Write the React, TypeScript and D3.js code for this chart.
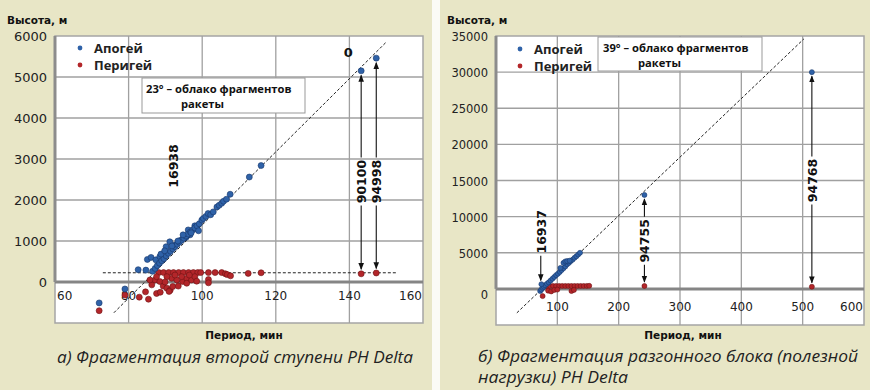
import * as d3 from "d3";

type Pt = [number, number];

// ---- panel a: second stage, period (min) / height (km shown as "м")
const apogeeA: Pt[] = [
  [72, -510], [79, -170],
  [82.6, 300], [84.7, 290], [85.1, 550], [86.1, 600], [87.4, 540], [88.5, 620],
  [90.2, 860], [91.2, 980], [92.6, 900], [94, 1010], [95, 1120], [95.6, 1090],
  [96.2, 1270], [96.7, 1150], [98, 1370],
  [86.5, 260], [87.2, 330], [87.8, 400], [88.4, 460], [89, 520], [89.6, 570],
  [90.2, 640], [90.8, 700], [91.4, 750], [92, 810], [92.6, 860], [93.2, 920],
  [93.8, 970], [94.4, 1020], [95, 1070], [95.6, 1120], [96.2, 1170], [96.8, 1220],
  [97.4, 1270], [98, 1320], [98.6, 1370], [99.2, 1420], [99.9, 1510],
  [88.8, 680], [89.8, 760], [91.8, 880], [93.4, 1000], [94.8, 1150], [97, 1200], [99, 1250],
  [100.3, 1550], [101, 1600], [101.6, 1670], [102.3, 1640], [103, 1710], [104, 1830],
  [104.6, 1870], [105.3, 1920], [105.8, 1970], [106.6, 2020], [107.6, 2140],
  [112.8, 2560], [116, 2840],
  [143.2, 5150], [147.3, 5460],
];
const perigeeA: Pt[] = [
  [88.2, 230], [89.5, 230], [90.9, 230], [92.2, 230], [93.6, 230], [94.9, 230],
  [96.3, 230], [97.6, 230], [98.8, 230], [99.6, 230], [101.7, 230], [103.5, 230],
  [105.3, 230], [106.3, 200], [106.8, 180], [107.7, 150], [112.5, 210], [116, 225],
  [84.6, -240], [85.4, -420], [82.9, -370], [87.6, -280], [86.3, -70], [87.2, 50],
  [88.5, 10], [89.4, -100], [90.4, -150], [91.3, -200], [92, -110], [91.7, 90],
  [93.1, 50], [93.5, -100], [94.7, 10], [95.8, 90], [95.8, -30], [97.1, 50],
  [98, 130], [98.5, 20], [87.6, 130], [90.4, 130], [85.8, 50], [89.9, 0],
  [94.4, 130], [92.6, 170], [101.7, 60], [101.7, -20], [96.5, 170], [88.6, -250], [91, -230],
  [72, -700], [79, -320],
  [143.2, 200], [147.3, 220],
];
const diagA: Pt[] = [[76, -750], [150, 5850]];
const flatA: Pt[] = [[73, 225], [153, 225]];
const xTicksA = [60, 80, 100, 120, 140, 160];
const yTicksA = [-1000, 0, 1000, 2000, 3000, 4000, 5000, 6000];

// ---- panel b: upper stage (payload)
const apogeeB: Pt[] = [
  [72, -300], [74, -100], [76, 150], [78, 300], [80, 500], [83, 700], [86, 900],
  [89, 1150], [92, 1400], [95, 1650], [98, 1900], [101, 2100], [104, 2350],
  [107, 2600], [110, 2850], [113, 3100], [116, 3400], [119, 3600], [122, 3850],
  [125, 4050], [128, 4300], [131, 4500], [134, 4750], [137, 5000],
  [74, 650], [110, 3600], [113, 3800], [116, 3850], [120, 3900], [105, 2900],
  [242, 13000], [515, 30000],
];
const perigeeB: Pt[] = [
  [83, 350], [88, 400], [93, 400], [98, 400], [103, 400], [108, 400], [113, 400],
  [118, 400], [123, 400], [128, 400], [133, 400], [138, 400], [143, 400], [148, 400], [152, 420],
  [76, -1000], [85, -250], [90, -350], [95, -150], [100, -100], [123, -300], [127, -150],
  [242, 400], [515, 300],
];
const diagB: Pt[] = [[34, -3320], [502, 34600]];
const xTicksB = [0, 100, 200, 300, 400, 500, 600];
const yTicksB = [-5000, 0, 5000, 10000, 15000, 20000, 25000, 30000, 35000];

// rotated labels: text, period, label height, arrow targets
interface Tag { text: string; px: number; hy: number; up?: number; down?: number }
const tagsA: Tag[] = [
  { text: "16938", px: 92.1, hy: 2830 },
  { text: "90100", px: 143.2, hy: 2450, up: 5150, down: 200 },
  { text: "94998", px: 147.3, hy: 2450, up: 5460, down: 220 },
];
const tagsB: Tag[] = [
  { text: "16937", px: 73, hy: 7900, down: 600 },
  { text: "94755", px: 242, hy: 6650, up: 13000, down: 400 },
  { text: "94768", px: 515, hy: 15000, up: 30000, down: 300 },
];

const BG = "#e8e6c6";
const FONT = "'DejaVu Sans', Verdana, sans-serif";
const SANS = "'Open Sans', sans-serif";
const BLUE = "#2f62a8";
const BLUE_S = "#17386b";
const RED = "#b3262a";
const RED_S = "#6e1214";

interface PanelProps {
  id: string;
  left: number; right: number; top: number; bottom: number;
  xDomain: [number, number]; yDomain: [number, number];
  xTicks: number[]; yTicks: number[];
  apogee: Pt[]; perigee: Pt[];
  lines: Pt[][];
  tags: Tag[];
  r: number;
  yTickSize: number; xTickSize: number; xTickDy: number;
  legend: [number, number];
  box: { x: number; y: number; w: number; h: number; l1: string; l2: string; t1x: number; t2x: number; b1: number; b2: number };
  extraLabel?: { text: string; px: number; hy: number };
  yTitleX: number;
  xTitleX: number;
  caption: { x: number; y: number; text: string; len: number }[];
  showFirstX: boolean;
}

function Panel(p: PanelProps) {
  const x = d3.scaleLinear().domain(p.xDomain).range([p.left, p.right]);
  const y = d3.scaleLinear().domain(p.yDomain).range([p.bottom, p.top]);
  const line = d3.line<Pt>().x(d => x(d[0])).y(d => y(d[1]));
  const y0 = y(0);
  const half = 22;

  return (
    <g>
      <rect x={p.left} y={p.top} width={p.right - p.left} height={p.bottom - p.top} fill="#fff" stroke="#a5a5a5" strokeWidth={1.5} />
      {p.xTicks.filter(t => t > p.xDomain[0] && t < p.xDomain[1]).map(t => (
        <line key={"gx" + t} x1={x(t)} x2={x(t)} y1={p.top} y2={p.bottom} stroke="#a0a0a0" strokeWidth={1.3} />
      ))}
      {p.yTicks.filter(t => t > p.yDomain[0] && t < p.yDomain[1] && t !== 0).map(t => (
        <line key={"gy" + t} x1={p.left} x2={p.right} y1={y(t)} y2={y(t)} stroke="#a0a0a0" strokeWidth={1.3} />
      ))}
      <line x1={p.left} x2={p.right} y1={y0} y2={y0} stroke="#858585" strokeWidth={3} />
      <line x1={p.left} x2={p.left} y1={p.top} y2={y0} stroke="#8c8c8c" strokeWidth={3} />

      {p.yTicks.filter(t => t >= 0).map(t => (
        <text key={"ty" + t} x={p.left - 8} y={y(t) + (t === 0 && p.id === "b" ? 10 : 5)} textAnchor="end"
          fontFamily={FONT} fontSize={p.yTickSize} fill="#222">{t}</text>
      ))}
      {p.xTicks.filter((t, i) => p.showFirstX || i > 0).map((t, i, arr) => {
        const first = t === p.xDomain[0];
        const last = i === arr.length - 1;
        return (
          <text key={"tx" + t} x={first ? x(t) + 2 : last ? x(t) - 1 : x(t)} y={y0 + p.xTickDy}
            textAnchor={first ? "start" : last ? "end" : "middle"}
            fontFamily={FONT} fontSize={p.xTickSize} fill="#222">{t}</text>
        );
      })}

      {p.lines.map((l, i) => (
        <path key={"l" + i} d={line(l) ?? ""} fill="none" stroke="#222" strokeWidth={1} strokeDasharray="3,2" />
      ))}

      {p.perigee.map((d, i) => (
        <circle key={"p" + i} cx={x(d[0])} cy={y(d[1])} r={p.r} fill={RED} stroke={RED_S} strokeWidth={0.6} />
      ))}
      {p.apogee.map((d, i) => (
        <circle key={"a" + i} cx={x(d[0])} cy={y(d[1])} r={p.r} fill={BLUE} stroke={BLUE_S} strokeWidth={0.6} />
      ))}

      {p.tags.map(t => {
        const cx = x(t.px);
        const cy = y(t.hy);
        return (
          <g key={t.text}>
            <text transform={`translate(${cx + 5},${cy}) rotate(-90)`} textAnchor="middle"
              fontFamily={FONT} fontWeight="bold" fontSize={12.5} fill="#111">{t.text}</text>
            {t.up !== undefined && (
              <line x1={cx} x2={cx} y1={cy - half - 2} y2={y(t.up) + p.r + 1.5} stroke="#111" strokeWidth={1.1} markerEnd={`url(#ah-${p.id})`} />
            )}
            {t.down !== undefined && (
              <line x1={cx} x2={cx} y1={cy + half + 2} y2={y(t.down) - p.r - 1.5} stroke="#111" strokeWidth={1.1} markerEnd={`url(#ah-${p.id})`} />
            )}
          </g>
        );
      })}
      {p.extraLabel && (
        <text x={x(p.extraLabel.px)} y={y(p.extraLabel.hy)} textAnchor="middle" fontFamily={FONT}
          fontWeight="bold" fontSize={13} fill="#111">{p.extraLabel.text}</text>
      )}

      <circle cx={p.legend[0]} cy={p.legend[1]} r={2.4} fill={BLUE} />
      <text x={p.legend[0] + 14} y={p.legend[1] + 4.5} fontFamily={SANS} fontWeight="bold" fontSize={13} fill="#222">Апогей</text>
      <circle cx={p.legend[0]} cy={p.legend[1] + 17} r={2.4} fill={RED} />
      <text x={p.legend[0] + 14} y={p.legend[1] + 21.5} fontFamily={SANS} fontWeight="bold" fontSize={13} fill="#222">Перигей</text>

      <rect x={p.box.x} y={p.box.y} width={p.box.w} height={p.box.h} fill="#fff" stroke="#999" strokeWidth={1} />
      <text x={p.box.t1x} y={p.box.b1} fontFamily={SANS} fontWeight="bold" fontSize={11.2} fill="#111">{p.box.l1}</text>
      <text x={p.box.t2x} y={p.box.b2} fontFamily={SANS} fontWeight="bold" fontSize={11.2} fill="#111">{p.box.l2}</text>

      <text x={p.yTitleX} y={24} fontFamily={FONT} fontWeight="bold" fontSize={10.5} fill="#111">Высота, м</text>
      <text x={p.xTitleX} y={339} textAnchor="middle" fontFamily={FONT} fontWeight="bold" fontSize={10.5} fill="#111">Период, мин</text>
      {p.caption.map((c, i) => (
        <text key={"c" + i} x={c.x} y={c.y} fontFamily={SANS} fontStyle="italic" fontSize={17}
          textLength={c.len} lengthAdjust="spacingAndGlyphs" fill="#222">{c.text}</text>
      ))}
    </g>
  );
}

export default function App() {
  return (
    <svg width={870} height={390} style={{ position: "fixed", left: 0, top: 0, display: "block" }}>
      <defs>
        {["a", "b"].map(id => (
          <marker key={id} id={`ah-${id}`} viewBox="0 0 10 10" refX={9} refY={5} markerWidth={7} markerHeight={7}
            markerUnits="userSpaceOnUse" orient="auto">
            <path d="M0,1 L10,5 L0,9 Z" fill="#111" />
          </marker>
        ))}
      </defs>
      <rect x={0} y={0} width={870} height={390} fill="#fbfbf5" />
      <rect x={0} y={0} width={432} height={390} fill={BG} />
      <rect x={440} y={0} width={430} height={390} fill={BG} />

      <Panel
        id="a" left={55} right={423} top={36} bottom={323}
        xDomain={[60, 160]} yDomain={[-1000, 6000]}
        xTicks={xTicksA} yTicks={yTicksA}
        apogee={apogeeA} perigee={perigeeA}
        lines={[diagA, flatA]} tags={tagsA} r={3}
        yTickSize={13} xTickSize={12} xTickDy={18} showFirstX
        legend={[80, 48]}
        box={{ x: 142, y: 78, w: 163, h: 35, l1: "23° – облако фрагментов", l2: "ракеты", t1x: 146, t2x: 181, b1: 93, b2: 108 }}
        extraLabel={{ text: "0", px: 139.7, hy: 5480 }}
        yTitleX={7} xTitleX={244}
        caption={[{ x: 57, y: 363, text: "а) Фрагментация второй ступени РН Delta", len: 356 }]}
      />
      <Panel
        id="b" left={496} right={864} top={36} bottom={325}
        xDomain={[0, 600]} yDomain={[-5000, 35000]}
        xTicks={xTicksB} yTicks={yTicksB}
        apogee={apogeeB} perigee={perigeeB}
        lines={[diagB]} tags={tagsB} r={2.5}
        yTickSize={11.5} xTickSize={12} xTickDy={22} showFirstX={false}
        legend={[520, 49]}
        box={{ x: 598, y: 37, w: 164, h: 34, l1: "39° – облако фрагментов", l2: "ракеты", t1x: 603, t2x: 638, b1: 51.5, b2: 66.5 }}
        yTitleX={447} xTitleX={683}
        caption={[
          { x: 478, y: 362, text: "б) Фрагментация разгонного блока (полезной", len: 380 },
          { x: 478, y: 383, text: "нагрузки) РН Delta", len: 150 },
        ]}
      />
    </svg>
  );
}
